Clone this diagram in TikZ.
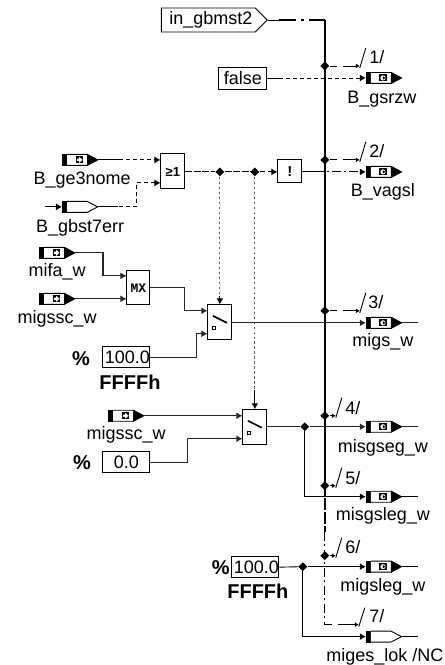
\documentclass[tikz,border=0pt]{standalone}
\usepackage{fontspec}
\setmainfont{Liberation Sans}
\setmonofont{Liberation Mono}
\usetikzlibrary{shapes.geometric, shapes.symbols, arrows.meta, positioning}

\begin{document}
\begin{tikzpicture}[
  x=1pt, y=-1pt,
  font=\fontsize{18}{20}\selectfont,
  >={Latex[length=6pt,width=7pt]},
  port/.style={minimum width=36pt, minimum height=12pt, inner sep=0pt, anchor=west,
               path picture={
                 \fill (-18,-6) rectangle (-13,6);
                 \draw[line width=0.9pt, fill=white] (-13,-5.5) -- (7,-5.5) -- (17.5,0) -- (7,5.5) -- (-13,5.5);
                 #1}},
  inport/.style={port={\fill (7,-6) -- (18,0) -- (7,6) -- cycle;
                 \fill (-4,-3.5) rectangle (3,3.5);
                 \fill[white] (-3,-1.2) -- (-1,-1.2) -- (-1,-3) -- (2.5,0) -- (-1,3) -- (-1,1.2) -- (-3,1.2) -- cycle;}},
  outport/.style={port={\fill (7,-6) -- (18,0) -- (7,6) -- cycle;
                 \fill (-5,-3.5) rectangle (3,3.5);
                 \fill[white] (-1,0) circle (2.6);
                 \fill (-1,-1.6) -- (1.5,0) -- (-1,1.6) -- cycle;}},
  locport/.style={port={}},
  box/.style={draw, line width=0.9pt, inner sep=0pt, text height=10pt},
  constbox/.style={box, minimum height=21pt, text width=47pt, align=right, text height=13pt},
  zerobox/.style={box, minimum height=21pt, minimum width=47pt, text height=13pt},
  switchbox/.style={box, minimum width=24pt, minimum height=35pt},
  joint/.style={diamond, fill=black, inner sep=0pt, minimum size=9pt},
  plab/.style={inner sep=0pt, text height=13pt, text depth=4pt},
  tag/.style={inner sep=0pt},
  unit/.style={font=\fontsize{20}{22}\selectfont\bfseries, inner sep=0pt},
  sig/.style={line width=0.9pt},
  word/.style={line width=1.2pt, black!85},
  flag/.style={line width=0.9pt, dash pattern=on 4pt off 3pt},
  dots/.style={line width=1.2pt, black!65, dash pattern=on 2.5pt off 2.5pt},
  bus/.style={line width=1.5pt},
  stub/.style={line width=0.9pt, ->, >={Latex[length=4pt,width=5pt]}}
]

% bus
\node[signal, signal to=east, signal from=nowhere, signal pointer angle=90, draw, line width=0.9pt,
      minimum width=106pt, minimum height=24pt, inner sep=0pt, text height=13pt, text depth=4pt] (ingb) at (208.5,20) {\hspace*{5pt}in\_gbmst2};
\coordinate (busa) at (325,20);
\coordinate (busb) at (325,470);
\coordinate (busc) at (325,532);
\coordinate (busd) at (325,625);
\draw[sig] (ingb.east) -- +(11,0);
\draw[bus, dash pattern=on 17pt off 5pt on 3pt off 5pt on 20pt] ([xshift=11pt]ingb.east) -- (busa);
\draw[bus] (busa) -- (busb);
\draw[bus, dash pattern=on 12pt off 2pt] (busb) -- (busc);
\draw[sig, dash pattern=on 9pt off 3pt on 2pt off 4pt] (busc) -- (busd);

\node[joint] (j1) at (325,66) {};
\node[joint] (j2) at (325,160) {};
\node[joint] (j3) at (325,311) {};
\node[joint] (j4) at (325,416) {};
\node[joint] (j5) at (325,486) {};
\node[joint] (j6) at (325,556) {};

% left inputs
\node[inport] (ge3) at (62,160) {};
\node[plab, below=5pt of ge3, xshift=2pt] (ge3lab) {B\_ge3nome};
\node[locport] (gbst) at (62,207) {};
\node[plab, below=6pt of gbst] (gbstlab) {B\_gbst7err};
\coordinate (gbstin) at (45,207);
\node[inport] (mifa) at (39,253) {};
\node[plab, below=4pt of mifa] (mifalab) {mifa\_w};
\node[inport] (msc) at (39,299) {};
\node[plab, below=5pt of msc] (msclab) {migssc\_w};
\node[inport] (mscb) at (108,416) {};
\node[plab, below=4pt of mscb] (msclabb) {migssc\_w};

% blocks
\node[box, minimum width=24pt, minimum height=35pt, font=\fontsize{13}{14}\selectfont\bfseries] (or1) at (173,171.5) {≥1};
\node[box, minimum width=24pt, minimum height=23pt, font=\fontsize{15}{16}\selectfont\ttfamily\bfseries] (neg) at (290,171.5) {!};
\node[box, minimum width=23pt, minimum height=34pt, font=\fontsize{13}{14}\selectfont\ttfamily\bfseries] (mx) at (138.5,288) {MX};
\node[switchbox] (swa) at (220,322.5) {};
\node[switchbox] (swb) at (255,427.5) {};
\draw[line width=1.6pt] (213,316) -- (227,323);
\draw[line width=0.9pt] (212.5,326.5) rectangle (215.5,329.5);
\draw[line width=1.6pt] (248,421) -- (262,428);
\draw[line width=0.9pt] (247.5,431.5) rectangle (250.5,434.5);
\node[box, minimum width=48pt, minimum height=22pt, text height=13pt] (fls) at (243,78.5) {false};

% constants
\node[constbox] (ca) at (126.5,357.5) {100.0};
\node[unit] (pcta) at (81,359) {\%};
\node[unit] (ffa) at (130,382) {FFFFh};
\node[zerobox] (cb) at (126.5,462.5) {0.0};
\node[unit] (pctb) at (82,463) {\%};
\node[constbox] (cc) at (255.5,567.5) {100.0};
\node[unit] (pctc) at (221,568) {\%};
\node[unit] (ffc) at (258,592) {FFFFh};

% right outputs
\node[outport] (gsr) at (366,78) {};
\node[plab, below=6pt of gsr, xshift=-2pt] (gsrlab) {B\_gsrzw};
\node[outport] (vag) at (366,172) {};
\node[plab, below=5pt of vag, xshift=-1pt] (vaglab) {B\_vagsl};
\node[outport] (migs) at (366,323) {};
\node[plab, below=4pt of migs, xshift=-1pt] (migslab) {migs\_w};
\node[outport] (mseg) at (366,427) {};
\node[plab, below=6pt of mseg, xshift=-1pt] (mseglab) {misgseg\_w};
\node[outport] (msle) at (366,497) {};
\node[plab, below=4pt of msle, xshift=-1pt] (mslelab) {misgsleg\_w};
\node[outport] (mlg) at (366,567) {};
\node[plab, below=5pt of mlg, xshift=-1pt] (mlglab) {migsleg\_w};
\node[locport] (mlok) at (366,637) {};
\node[plab, below=5pt of mlok, xshift=1pt] (mloklab) {miges\_lok /NC};

% flags
\draw[sig, ->] (gbstin) -- (gbst.west);
\draw[flag] (ge3.east) -- +(20,0) -- ([xshift=-5pt]ge3.east -| or1.west);
\draw[sig] (ge3.east) -- +(22,0);
\draw[sig, ->] ([xshift=-5pt]ge3.east -| or1.west) -- (ge3.east -| or1.west);
\coordinate (kn1) at (137,207);
\coordinate (kn2) at (137,183);
\draw[sig] (gbst.east) -- +(20,0);
\draw[flag] (gbst.east) -- (kn1) -- (kn2) -- ([xshift=-5pt]kn2 -| or1.west);
\draw[sig, ->] ([xshift=-5pt]kn2 -| or1.west) -- (kn2 -| or1.west);

\node[joint] (ja) at (220,172) {};
\node[joint] (jb) at (255,172) {};
\draw[sig, dash pattern=on 7pt off 1.5pt] (or1.east |- ja) -- (ja);
\draw[sig, dash pattern=on 7pt off 1.5pt] (ja) -- (jb);
\draw[sig, ->, dash pattern=on 5pt off 3pt on 9pt off 3pt] (jb) -- (neg.west |- jb);
\draw[sig] (neg.east |- jb) -- +(13,0);
\draw[sig, ->, dash pattern=on 9pt off 3pt on 2pt off 3pt] ([xshift=13pt]neg.east |- jb) -- (vag.west);
\draw[sig] (fls.east |- gsr) -- +(12,0);
\draw[flag, ->] ([xshift=12pt]fls.east |- gsr) -- (gsr.west);

\coordinate (dota) at (220,296);
\coordinate (dotb) at (255,390);
\draw[dots] (ja) -- (dota);
\draw[word, ->, black] (dota) -- (swa.north);
\draw[dots] (jb) -- (dotb);
\draw[word, ->, black] (dotb) -- (swb.north);

% data lines
\coordinate (ka) at (103,253);
\coordinate (kb) at (103,276);
\draw[word, ->] (mifa.east) -- (ka) -- (kb) -- (kb -| mx.west);
\draw[word, ->] (msc.east) -- (msc.east -| mx.west);
\coordinate (kc) at (185,288);
\coordinate (kd) at (185,311);
\draw[word, ->] (mx.east) -- (kc) -- (kd) -- (kd -| swa.west);
\coordinate (ke) at (197,358);
\coordinate (kf) at (197,334);
\draw[word, ->] (ca.east |- ke) -- (ke) -- (kf) -- (kf -| swa.west);
\draw[word, ->] (swa.east |- migs) -- (migs.west);
\draw[word] (migs.east) -- +(16,0);

\draw[word, ->] (mscb.east) -- (mscb.east -| swb.west);
\coordinate (kg) at (188,462.5);
\coordinate (kh) at (188,439);
\draw[word, ->] (cb.east) -- (kg) -- (kh) -- (kh -| swb.west);
\node[joint] (jc) at (305,427) {};
\draw[word] (swb.east |- jc) -- (jc);
\draw[word, ->] (jc) -- (mseg.west);
\draw[word] (mseg.east) -- +(16,0);
\coordinate (ki) at (305,497);
\draw[sig, ->] (jc) -- (ki) -- (msle.west);
\draw[sig] (msle.east) -- +(16,0);

\node[joint] (jd) at (303,567) {};
\draw[sig] (cc.east) -- (jd);
\draw[sig, ->] (jd) -- (mlg.west);
\draw[sig] (mlg.east) -- +(16,0);
\coordinate (kj) at (303,637);
\draw[sig, ->] (jd) -- (kj) -- (mlok.west);
\draw[sig] (mlok.east) -- +(16,0);

% bit tags
\coordinate (ta) at (360,66);
\coordinate (tb) at (360,160);
\coordinate (tc) at (360,311);
\coordinate (td) at (336,416);
\coordinate (te) at (336,486);
\coordinate (tf) at (336,556);
\coordinate (tg) at (359,625);
\draw[stub, dash pattern=on 7pt off 6pt on 30pt] (j1) -- (ta);
\draw[stub, dash pattern=on 7pt off 6pt on 30pt] (j2) -- (tb);
\draw[stub, dash pattern=on 7pt off 6pt on 30pt] (j3) -- (tc);
\draw[stub] (j4) -- (td);
\draw[stub] (j5) -- (te);
\draw[stub] (j6) -- (tf);
\draw[stub, dash pattern=on 7pt off 6pt on 30pt] (busd) -- (tg);
\draw[sig] (ta) ++(0,2) -- ++(6,-20);
\draw[sig] (tb) ++(0,2) -- ++(6,-20);
\draw[sig] (tc) ++(0,2) -- ++(6,-20);
\draw[sig] (td) ++(0,2) -- ++(6,-20);
\draw[sig] (te) ++(0,2) -- ++(6,-20);
\draw[sig] (tf) ++(0,2) -- ++(6,-20);
\draw[sig] (tg) ++(0,2) -- ++(6,-19);
\node[tag] (ba) at (377,57) {1/};
\node[tag] (bb) at (377,151) {2/};
\node[tag] (bc) at (376,302) {3/};
\node[tag] (bd) at (353,408) {4/};
\node[tag] (be) at (353,478) {5/};
\node[tag] (bf) at (353,547) {6/};
\node[tag] (bg) at (377,616) {7/};

\useasboundingbox (0,0) rectangle (445,665);
\end{tikzpicture}
\end{document}
